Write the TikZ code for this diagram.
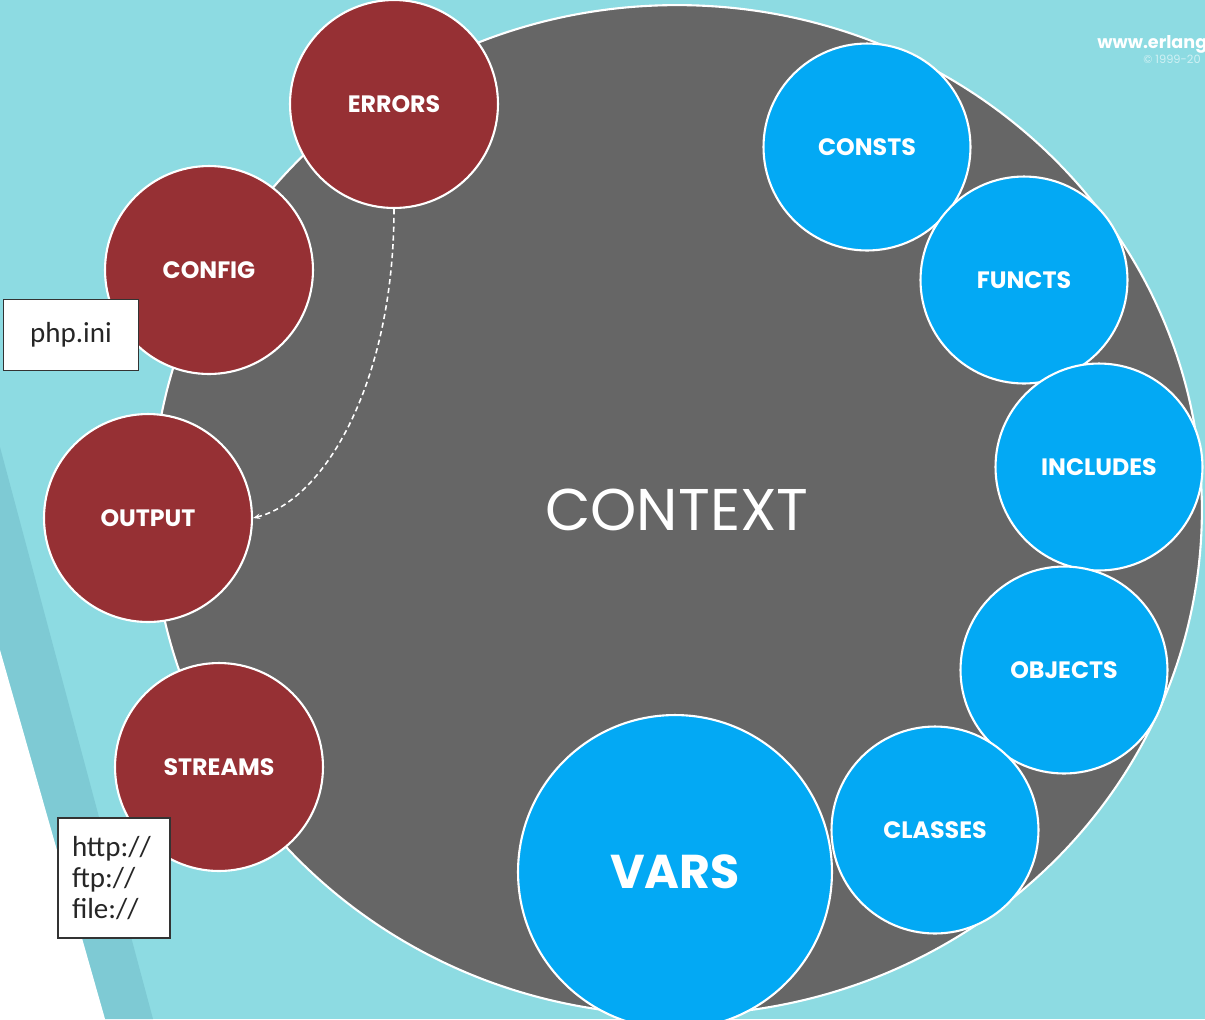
\documentclass[tikz,border=0pt]{standalone}
\usepackage{fontspec}
\setmainfont{Poppins}
\newfontfamily\notefont{Carlito}
\usetikzlibrary{arrows.meta, shapes.geometric, positioning}
\definecolor{SkyBack}{RGB}{141,219,226}
\definecolor{SkyBand}{RGB}{126,202,212}
\definecolor{ContextGray}{RGB}{102,102,102}
\definecolor{BrickRed}{RGB}{150,48,52}
\definecolor{AzureBlue}{RGB}{3,169,244}

\tikzset{
  ball/.style={circle, draw=white, line width=1.2pt, inner sep=0pt,
    text=white, font=\bfseries\fontsize{13.5}{16}\selectfont},
  redball/.style={ball, fill=BrickRed, minimum size=4.16cm},
  blueball/.style={ball, fill=AzureBlue, minimum size=4.14cm},
  notebox/.style={draw=black!80, fill=white, line width=0.8pt,
    text=black!85, font=\notefont\fontsize{16.5}{17.8}\selectfont}
}

\begin{document}
\begin{tikzpicture}[x=0.02cm, y=-0.02cm]
\useasboundingbox (0,0) rectangle (1205,1019);
\clip (0,0) rectangle (1205,1019);

% backdrop with the slanted strip on the left
\fill[SkyBack] (0,0) rectangle (1205,1019);
\fill[SkyBand] (0,447) -- (153,1019) -- (105,1019) -- (0,650) -- cycle;
\fill[white] (0,650) -- (105,1019) -- (0,1019) -- cycle;

% the big context
\node[ellipse, draw=white, line width=1.2pt, fill=ContextGray,
  minimum width=21cm, minimum height=20.2cm, text=white,
  font=\fontsize{33.5}{40}\selectfont] (context) at (677,510) {CONTEXT};

% right side
\node[blueball] (consts)   at (867,147)  {CONSTS};
\node[blueball] (functs)   at (1024,280) {FUNCTS};
\node[blueball] (includes) at (1099,467) {INCLUDES};
\node[blueball] (objects)  at (1064,670) {OBJECTS};
\node[blueball] (classes)  at (935,830)  {CLASSES};
\node[blueball, minimum size=6.28cm,
  font=\bfseries\fontsize{27}{32}\selectfont] (vars) at (675,872) {VARS};

% left side
\node[redball] (errors)  at (394,104) {ERRORS};
\node[redball] (config)  at (209,270) {CONFIG};
\node[redball] (output)  at (148,518) {OUTPUT};
\node[redball] (streams) at (219,767) {STREAMS};

\draw[white, line width=0.9pt, dash pattern=on 3pt off 2pt, -{Stealth[length=4pt]}]
  (errors.south) .. controls +(0,172) and +(72,-18) .. (output.east);

\node[notebox, minimum width=2.7cm, minimum height=1.42cm] (ini) at (71,335) {php.ini};
\node[notebox, text width=1.68cm, inner xsep=0.28cm, minimum height=2.4cm,
  align=left] (wrappers) at (114,878) {http://\\ftp://\\file://};

% corner mark
\node[anchor=base west, inner sep=0pt, text=white,
  font=\bfseries\fontsize{10}{12}\selectfont] (site) at (1097,48) {www.erlang};
\node[anchor=base west, inner sep=0pt, text=white!60!SkyBack,
  font=\fontsize{6.5}{8}\selectfont] (years) at (1143,63) {© 1999-20};
\end{tikzpicture}
\end{document}
